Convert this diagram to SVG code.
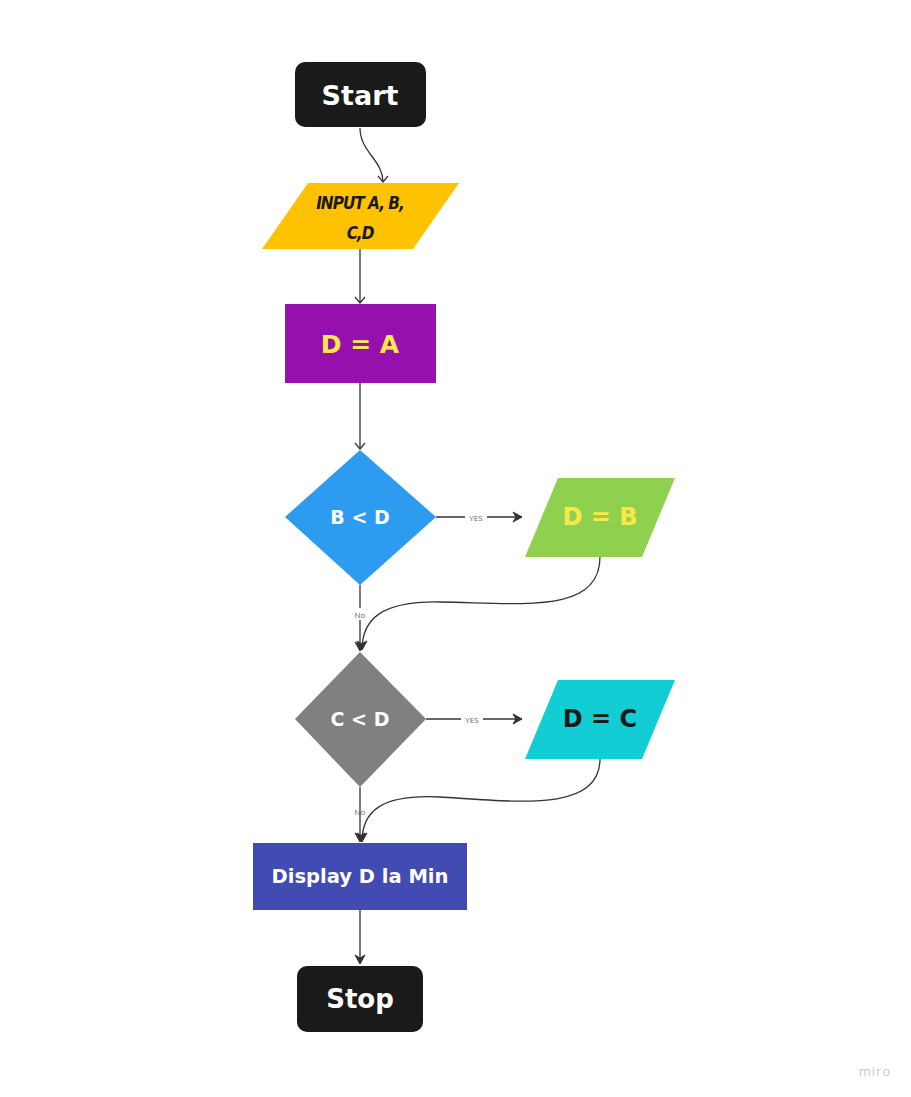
<svg xmlns="http://www.w3.org/2000/svg" width="911" height="1097" viewBox="0 0 911 1097">
<style>
.t{font-family:"DejaVu Sans",Lato,"Liberation Sans",sans-serif;font-weight:bold;text-anchor:middle;dominant-baseline:central}
.c{fill:none;stroke:#333;stroke-width:1.3}
.lbl{font-family:"Open Sans","Liberation Sans",sans-serif;font-size:8px;fill:#666;text-anchor:middle;dominant-baseline:central}
.in{font-family:"DejaVu Sans Condensed","DejaVu Sans",sans-serif;font-weight:bold;font-style:italic;font-size:17px;fill:#1a1a1a;text-anchor:middle;dominant-baseline:central;letter-spacing:-1px}
</style>
<defs>
<marker id="open" markerWidth="12" markerHeight="12" refX="9" refY="6" orient="auto" markerUnits="userSpaceOnUse">
<path d="M3,1 L9,6 L3,11" fill="none" stroke="#333" stroke-width="1.2"/>
</marker>
<marker id="solid" markerWidth="14" markerHeight="14" refX="11" refY="7" orient="auto" markerUnits="userSpaceOnUse">
<path d="M2,2 L11,7 L2,12 L5,7 Z" fill="#333" stroke="#333" stroke-width="1"/>
</marker>
</defs>
<rect width="911" height="1097" fill="#fff"/>
<g id="connectors">
<path class="c" d="M360,128 C360,152 383,160 383,182" marker-end="url(#open)"/>
<path class="c" d="M360,249 L360,303" marker-end="url(#open)"/>
<path class="c" d="M360,383 L360,449" marker-end="url(#open)"/>
<path class="c" d="M436,517 L522,517" marker-end="url(#solid)"/>
<rect x="465" y="511" width="22" height="12" fill="#fff"/>
<text class="lbl" x="476" y="517">YES</text>
<path class="c" d="M360,585 L360,651" marker-end="url(#solid)"/>
<rect x="352" y="608" width="16" height="12" fill="#fff"/>
<text class="lbl" x="360" y="614">No</text>
<path class="c" d="M600,557 C600,615 520,603 440,602 C380,601 362,620 362,650" marker-end="url(#solid)"/>
<path class="c" d="M426,719 L522,719" marker-end="url(#solid)"/>
<rect x="461" y="713" width="22" height="12" fill="#fff"/>
<text class="lbl" x="472" y="719">YES</text>
<path class="c" d="M360,787 L360,842" marker-end="url(#solid)"/>
<path class="c" d="M600,759 C600,812 520,802 440,797 C380,794 362,812 362,842" marker-end="url(#solid)"/>
<text class="lbl" x="360" y="811">No</text>
<path class="c" d="M360,910 L360,964" marker-end="url(#solid)"/>
</g>
<g id="start">
<rect x="295" y="62" width="131" height="65" rx="10" fill="#1a1a1a"/>
<text class="t" x="360" y="95" font-size="27" fill="#fff">Start</text>
</g>
<g id="input">
<polygon points="308,183 459,183 413,249 262,249" fill="#FEC200"/>
<text class="in" x="360" y="203">INPUT A, B,</text>
<text class="in" x="360" y="233">C,D</text>
</g>
<g id="da">
<rect x="285" y="304" width="151" height="79" fill="#9510AC"/>
<text class="t" x="360" y="344" font-size="25" fill="#FAE84A">D = A</text>
</g>
<g id="bd">
<polygon points="360,450 436,517 360,585 285,517" fill="#2D9BF0"/>
<text class="t" x="360" y="517" font-size="19" fill="#fff">B &lt; D</text>
</g>
<g id="db">
<polygon points="558,478 675,478 642,557 525,557" fill="#8FD14F"/>
<text class="t" x="600" y="517" font-size="24" fill="#FAE84A">D = B</text>
</g>
<g id="cd">
<polygon points="360,652 426,719 360,787 295,719" fill="#808080"/>
<text class="t" x="360" y="719" font-size="19" fill="#fff">C &lt; D</text>
</g>
<g id="dc">
<polygon points="558,680 675,680 642,759 525,759" fill="#12CDD4"/>
<text class="t" x="600" y="719" font-size="24" fill="#1a1a1a">D = C</text>
</g>
<g id="display">
<rect x="253" y="843" width="214" height="67" fill="#414BB2"/>
<text class="t" x="360" y="876" font-size="19.5" fill="#fff">Display D la Min</text>
</g>
<g id="stop">
<rect x="297" y="966" width="126" height="66" rx="10" fill="#1a1a1a"/>
<text class="t" x="360" y="999" font-size="26" fill="#fff">Stop</text>
</g>
<text x="875" y="1071" font-family="'Open Sans','Liberation Sans',sans-serif" font-size="13" fill="#c8c8cc" text-anchor="middle" dominant-baseline="central" letter-spacing="1">miro</text>
</svg>
